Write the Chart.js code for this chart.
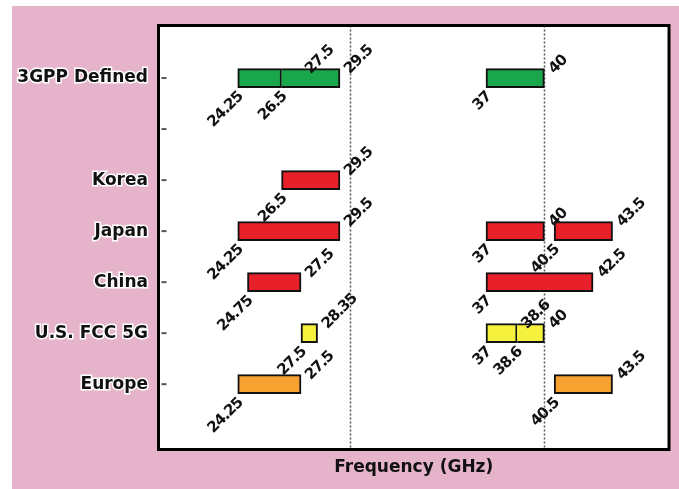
<!DOCTYPE html>
<html>
<head>
<meta charset="utf-8">
<script src="https://cdn.jsdelivr.net/npm/chart.js@4/dist/chart.umd.min.js"></script>
<style>
  html, body { margin: 0; padding: 0; background: #ffffff; }
  #wrap { position: absolute; left: 0; top: 0; width: 679px; height: 489px; }
</style>
</head>
<body>
<div id="wrap"><canvas id="c" width="679" height="489"></canvas></div>
<script>
// ---- data ----
const categories = ['3GPP Defined', '', 'Korea', 'Japan', 'China', 'U.S. FCC 5G', 'Europe'];
const gppBands = [[24.25, 26.5], [26.5, 29.5], [37, 40]];
const koreaBands = [[26.5, 29.5]];
const japanBands = [[24.25, 29.5], [37, 40], [40.5, 43.5]];
const chinaBands = [[24.75, 27.5], [37, 42.5]];
const usBands = [[27.5, 28.35], [37, 38.6], [38.6, 40]];
const europeBands = [[24.25, 27.5], [40.5, 43.5]];
const lowerLabels = [[24.25, 26.5, 37], [], [26.5], [24.25, 37, 40.5], [24.75, 37], [27.5, 37, 38.6], [24.25, 40.5]];
const upperLabels = [[27.5, 29.5, 40], [], [29.5], [29.5, 40, 43.5], [27.5, 42.5], [28.35, 38.6, 40], [27.5, 43.5]];
const markerLines = [30, 40];
const xTitle = 'Frequency (GHz)';

const regions = [
  { bands: gppBands, row: 0, color: '#1aa64a' },
  { bands: koreaBands, row: 2, color: '#e8202a' },
  { bands: japanBands, row: 3, color: '#e8202a' },
  { bands: chinaBands, row: 4, color: '#e8202a' },
  { bands: usBands, row: 5, color: '#f6f13c' },
  { bands: europeBands, row: 6, color: '#f7a131' }
];

const datasets = regions.map(r => ({
  data: r.bands.map(b => ({ x: b, y: r.row })),
  backgroundColor: r.color,
  borderColor: '#111111',
  borderWidth: 2,
  // a segment that starts where another one ends shares its divider line
  borderSkipped: (ctx) => {
    const d = ctx.raw;
    if (!d) return false;
    return r.bands.some(b => b[1] === d.x[0]) ? 'left' : false;
  },
  barThickness: 19,
  grouped: false
}));

const LABEL_FONT = 'bold 15px "DejaVu Sans"';

const decor = {
  id: 'decor',
  beforeDraw(chart) {
    const ctx = chart.ctx;
    const a = chart.chartArea;
    ctx.save();
    ctx.fillStyle = '#ffffff';
    ctx.fillRect(0, 0, chart.width, chart.height);
    ctx.fillStyle = '#e6b4ca';
    ctx.fillRect(12, 6, chart.width - 12, chart.height - 6);
    ctx.fillStyle = '#ffffff';
    ctx.fillRect(a.left, a.top, a.right - a.left, a.bottom - a.top);
    ctx.restore();
  },
  beforeDatasetsDraw(chart) {
    const ctx = chart.ctx;
    const a = chart.chartArea;
    const xs = chart.scales.x;
    ctx.save();
    ctx.strokeStyle = '#555555';
    ctx.lineWidth = 1.5;
    ctx.setLineDash([2, 2]);
    markerLines.forEach(v => {
      const px = Math.round(xs.getPixelForValue(v)) + 0.5;
      ctx.beginPath();
      ctx.moveTo(px, a.top);
      ctx.lineTo(px, a.bottom);
      ctx.stroke();
    });
    ctx.restore();
  },
  afterDatasetsDraw(chart) {
    const ctx = chart.ctx;
    const a = chart.chartArea;
    const xs = chart.scales.x;
    const ys = chart.scales.y;
    ctx.save();
    // tick marks inside plot
    ctx.strokeStyle = '#555555';
    ctx.lineWidth = 2;
    categories.forEach((c, i) => {
      const py = ys.getPixelForValue(i);
      ctx.beginPath();
      ctx.moveTo(a.left + 3, py);
      ctx.lineTo(a.left + 8, py);
      ctx.stroke();
    });
    // frame
    ctx.strokeStyle = '#000000';
    ctx.lineWidth = 3;
    ctx.strokeRect(a.left, a.top, a.right - a.left, a.bottom - a.top);
    // value labels
    ctx.font = LABEL_FONT;
    if ('letterSpacing' in ctx) ctx.letterSpacing = '-1px';
    ctx.fillStyle = '#111111';
    ctx.textBaseline = 'middle';
    const half = 19 / 2;
    categories.forEach((c, i) => {
      const py = ys.getPixelForValue(i);
      lowerLabels[i].forEach(v => {
        const px = xs.getPixelForValue(v);
        ctx.save();
        ctx.translate(px, py + half);
        ctx.rotate(-Math.PI / 4);
        ctx.textAlign = 'right';
        ctx.fillText(String(v), -3, 7);
        ctx.restore();
      });
      upperLabels[i].forEach(v => {
        const px = xs.getPixelForValue(v);
        ctx.save();
        ctx.translate(px, py - half);
        ctx.rotate(-Math.PI / 4);
        ctx.textAlign = 'left';
        ctx.fillText(String(v), 3, 7);
        ctx.restore();
      });
    });
    ctx.restore();
  }
};

new Chart(document.getElementById('c'), {
  type: 'bar',
  data: { datasets },
  options: {
    responsive: false,
    animation: false,
    indexAxis: 'y',
    layout: { padding: { top: 25.5, right: 10, left: 0, bottom: 0 } },
    plugins: { legend: { display: false }, tooltip: { enabled: false } },
    scales: {
      x: {
        type: 'linear',
        min: 20.18,
        max: 46.4,
        grid: { display: false },
        border: { display: false },
        ticks: { display: false },
        title: {
          display: true,
          text: xTitle,
          color: '#111111',
          font: { family: '"DejaVu Sans"', size: 17, weight: 'bold' },
          padding: { top: 0, bottom: 11 }
        },
        afterFit(s) { s.height = 39.5; }
      },
      y: {
        type: 'linear',
        reverse: true,
        offset: false,
        min: -1.03,
        max: 7.28,
        grid: { display: false, drawTicks: false },
        border: { display: false },
        afterBuildTicks(s) { s.ticks = categories.map((c, i) => ({ value: i })); },
        ticks: {
          callback: (v) => categories[v] ?? '',
          padding: 10.5,
          color: '#111111',
          textStrokeColor: '#ffffff',
          textStrokeWidth: 3,
          font: { family: '"DejaVu Sans"', size: 17, weight: 'bold' }
        },
        afterFit(s) { s.width = 158.5; }
      }
    }
  },
  plugins: [decor]
});
</script>
</body>
</html>
